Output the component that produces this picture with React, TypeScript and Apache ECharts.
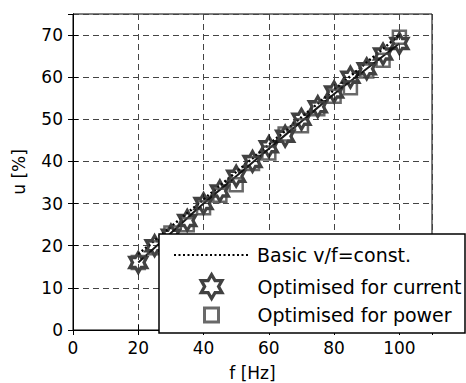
import React, { useEffect, useRef } from "react";
import * as echarts from "echarts";

// ---- data ----
const freq = [20, 25, 30, 35, 40, 45, 50, 55, 60, 65, 70, 75, 80, 85, 90, 95, 100];
const currentU = [16, 20, 22.5, 26, 30, 33, 36.5, 40, 43.5, 46, 50, 53, 56.5, 60, 62, 65.5, 68];
const powerU = [16, 19.5, 23, 25, 29, 32, 34.5, 39.5, 42, 46.5, 48.5, 52.5, 55.5, 57.5, 61.5, 64, 69.5];
const fitF = [20, 30, 40, 50, 60, 70, 80, 90, 100];
const fitU = [16, 23, 30, 36.5, 43, 49.5, 56, 62, 68];
const basicF = [20, 40, 60, 80, 100];
const basicU = [18, 31, 44, 57, 70];
const xTicks = { min: 0, max: 110, interval: 20 };
const yTicks = { min: 0, max: 75, interval: 10 };
const names = ["Basic v/f=const.", "Optimised for current", "Optimised for power"];

// hexagram marker outline
const starPts: string[] = [];
for (let k = 0; k < 12; k++) {
  const a = ((90 + 30 * k) * Math.PI) / 180;
  const rad = k % 2 === 0 ? 10 : 10 / Math.sqrt(3);
  starPts.push(`${(10 + rad * Math.cos(a)).toFixed(3)},${(10 - rad * Math.sin(a)).toFixed(3)}`);
}
const starPath = "path://M" + starPts.join("L") + "Z";
const squarePath = "path://M0,0L10,0L10,10L0,10Z";

const FONT = "DejaVu Sans";

export default function App() {
  const ref = useRef<HTMLDivElement>(null);
  useEffect(() => {
    if (!ref.current) return;
    const chart = echarts.init(ref.current, undefined, { renderer: "svg" });
    const legendBase = {
      left: 173,
      orient: "horizontal",
      itemWidth: 74,
      itemHeight: 24,
      padding: 0,
      selectedMode: false,
      z: 10,
      textStyle: { fontFamily: FONT, fontSize: 19, color: "#000", lineHeight: 24, padding: [0, 0, 0, 4] },
    };
    const axisCommon = {
      type: "value",
      axisLine: { show: true, lineStyle: { color: "#000", width: 1 } },
      axisTick: { show: true, inside: true, length: 5, lineStyle: { color: "#000" } },
    };
    chart.setOption({
      animation: false,
      backgroundColor: "#fff",
      grid: {
        left: 73,
        top: 14,
        right: 34,
        bottom: 53,
        show: true,
        borderColor: "#000",
        borderWidth: 1,
        outerBoundsMode: "none",
        containLabel: false,
      },
      xAxis: [
        {
          ...axisCommon,
          position: "bottom",
          ...xTicks,
          name: "f [Hz]",
          nameLocation: "middle",
          nameGap: 34,
          nameTextStyle: { fontFamily: FONT, fontSize: 17, color: "#000" },
          axisLabel: { fontFamily: FONT, fontSize: 17, color: "#000", margin: 9, showMaxLabel: false },
          splitLine: { show: true, lineStyle: { color: "#444", type: [6, 4], width: 1 } },
        },
        {
          ...axisCommon,
          position: "top",
          ...xTicks,
          axisLabel: { show: false },
          splitLine: { show: false },
        },
      ],
      yAxis: [
        {
          ...axisCommon,
          position: "left",
          ...yTicks,
          name: "u [%]",
          nameLocation: "middle",
          nameGap: 46,
          nameTextStyle: { fontFamily: FONT, fontSize: 17, color: "#000" },
          axisLabel: { fontFamily: FONT, fontSize: 17, color: "#000", margin: 10, showMaxLabel: false },
          splitLine: { show: true, lineStyle: { color: "#444", type: [6, 4], width: 1 } },
        },
        {
          ...axisCommon,
          position: "right",
          ...yTicks,
          axisLabel: { show: false },
          splitLine: { show: false },
        },
      ],
      legend: [
        { ...legendBase, top: 243, data: [{ name: names[0], itemStyle: { opacity: 0 } }] },
        {
          ...legendBase,
          left: 173 + (74 - 24 * 0.866) / 2,
          top: 273,
          data: [{ name: names[1], icon: starPath }],
          itemStyle: { borderWidth: 3.2, borderColor: "#111", color: "rgba(0,0,0,0)" },
        },
        {
          ...legendBase,
          left: 173 + (74 - 14) / 2,
          top: 303,
          itemHeight: 14,
          data: [{ name: names[2], icon: squarePath }],
          itemStyle: { borderWidth: 3, borderColor: "#444", color: "rgba(0,0,0,0)" },
        },
      ],
      graphic: [
        {
          type: "rect",
          x: 159,
          y: 234,
          z: 5,
          shape: { x: 0, y: 0, width: 306, height: 99 },
          style: { fill: "#fff", stroke: "#000", lineWidth: 1.5 },
        },
      ],
      series: [
        {
          name: names[1],
          type: "scatter",
          symbol: starPath,
          symbolSize: [17, 20],
          data: freq.map((f, i) => [f, currentU[i]]),
          itemStyle: { color: "rgba(0,0,0,0)", borderColor: "#111", borderWidth: 3.2 },
          z: 2,
        },
        {
          name: names[2],
          type: "scatter",
          symbol: squarePath,
          symbolSize: 13,
          data: freq.map((f, i) => [f, powerU[i]]),
          itemStyle: { color: "rgba(0,0,0,0)", borderColor: "#444", borderWidth: 2.5 },
          z: 2,
        },
        {
          name: "fit",
          type: "line",
          symbol: "none",
          smooth: true,
          data: fitF.map((f, i) => [f, fitU[i]]),
          lineStyle: { color: "#1a1a1a", width: 2 },
          itemStyle: { color: "#1a1a1a" },
          z: 2,
        },
        {
          name: names[0],
          type: "line",
          symbol: "none",
          data: basicF.map((f, i) => [f, basicU[i]]),
          lineStyle: { color: "#000", width: 2.5, type: [2, 2.5] },
          itemStyle: { color: "#000" },
          z: 2,
        },
      ],
    });
    return () => chart.dispose();
  }, []);
  return (
    <div
      ref={ref}
      style={{ position: "fixed", left: 0, top: 0, width: 466, height: 383 }}
    />
  );
}
